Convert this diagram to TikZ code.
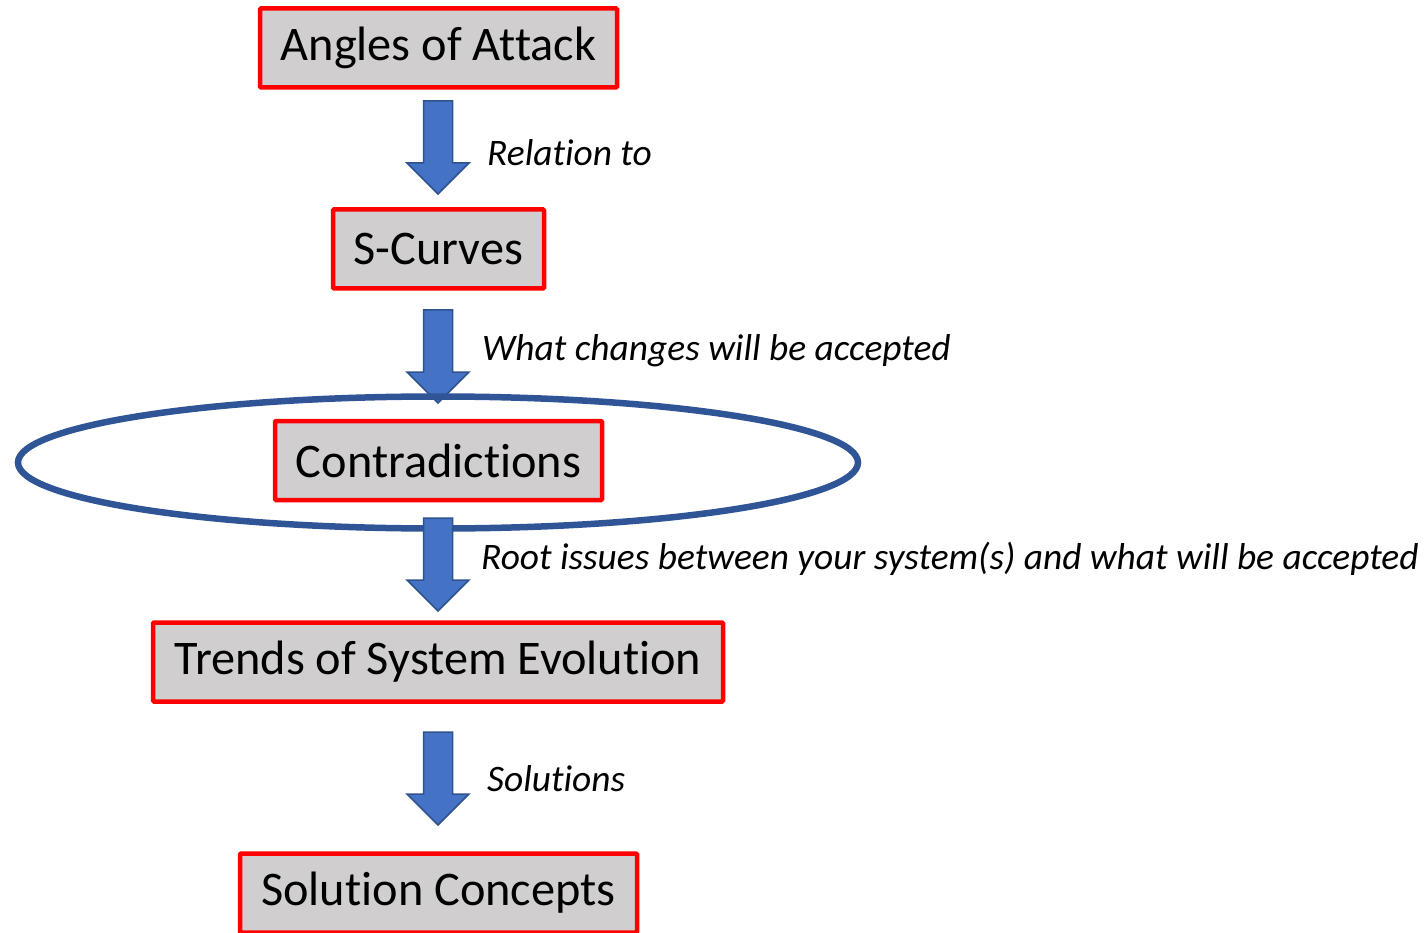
\documentclass[tikz,border=0pt]{standalone}
\usepackage{fontspec}
\setmainfont[Ligatures=NoCommon]{Carlito}
\usetikzlibrary{shapes.geometric}
\definecolor{boxfill}{HTML}{D0CECE}
\definecolor{boxline}{HTML}{FF0000}
\definecolor{arrfill}{HTML}{4472C4}
\definecolor{arrline}{HTML}{2F528F}
\definecolor{ringline}{HTML}{2F5597}
\tikzset{
  stage/.style={draw=boxline, line width=4.5pt, fill=boxfill, rounded corners=1pt,
    minimum height=79pt, inner sep=0pt, font=\fontsize{48.3}{58}\selectfont, text=black},
  steplabel/.style={anchor=west, inner sep=0pt, font=\fontsize{37.4}{45}\selectfont\itshape, text=black},
  blockarrow/.pic={
    \path[fill=arrfill, draw=arrline, line width=1.5pt, line join=miter]
      (-14.5,0) -- (14.5,0) -- (14.5,62) -- (31,62) -- (0,93) -- (-31,62) -- (-14.5,62) -- cycle;
  }
}
\begin{document}
\begin{tikzpicture}[x=1pt, y=-1pt]
\useasboundingbox (0,0) rectangle (1424,933);

% process stages
\node[stage, minimum width=357pt] (aoa) at (438.5,48) {Angles of Attack};
\node[stage, minimum width=211pt] (scurve) at (438.5,249) {S-Curves};
\node[stage, minimum width=327pt] (contra) at (438.5,460.5) {Contradictions};
\node[stage, minimum width=570pt] (trends) at (438,662) {Trends of System Evolution};
\node[stage, minimum width=397pt] (sol) at (438.5,893) {Solution Concepts};

% block arrows between stages
\pic at (438,101) {blockarrow};
\pic at (438,310) {blockarrow};

% ring around the contradictions stage
\node[draw=ringline, line width=6.5pt, ellipse, minimum width=840pt, minimum height=132pt,
  inner sep=0pt] (ring) at (438,462.5) {};

\pic at (438,518) {blockarrow};
\pic at (438,732) {blockarrow};

% arrow labels
\node[steplabel] (l1) at (487,153) {Relation to};
\node[steplabel] (l2) at (482,351) {What changes will be accepted};
\node[steplabel] (l3) at (481,559) {Root issues between your system(s) and what will be accepted};
\node[steplabel] (l4) at (487,779) {Solutions};
\end{tikzpicture}
\end{document}
